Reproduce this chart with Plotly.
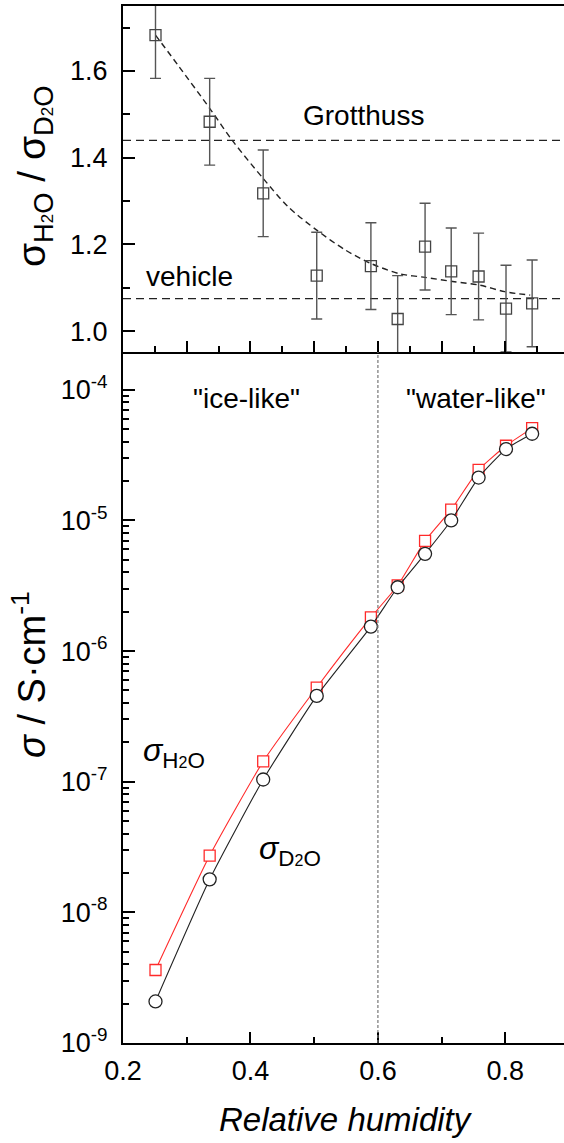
import plotly.graph_objects as go

# ---------------- data ----------------
rh = [0.251, 0.336, 0.420, 0.504, 0.589, 0.631, 0.674, 0.715, 0.758, 0.801, 0.842]

ratio = [1.683, 1.483, 1.318, 1.128, 1.150, 1.028, 1.195, 1.138, 1.126, 1.052, 1.064]
ratio_err = [0.10, 0.10, 0.10, 0.10, 0.10, 0.10, 0.10, 0.10, 0.10, 0.10, 0.10]

fit_x = [0.251, 0.288, 0.336, 0.373, 0.420, 0.459, 0.504, 0.549, 0.589, 0.635, 0.674, 0.720, 0.760, 0.799, 0.839]
fit_y = [1.683, 1.610, 1.514, 1.437, 1.352, 1.287, 1.233, 1.187, 1.156, 1.132, 1.124, 1.114, 1.106, 1.091, 1.083]

grotthuss_level = 1.44
vehicle_level = 1.075

sigma_h2o = [3.62e-9, 2.72e-8, 1.43e-7, 5.26e-7, 1.81e-6, 3.18e-6, 6.98e-6, 1.21e-5, 2.44e-5, 3.73e-5, 5.09e-5]
sigma_d2o = [2.08e-9, 1.79e-8, 1.04e-7, 4.54e-7, 1.54e-6, 3.08e-6, 5.55e-6, 1.00e-5, 2.13e-5, 3.52e-5, 4.61e-5]

boundary_rh = 0.6

x_major = [0.2, 0.4, 0.6, 0.8]
x_labels = ["0.2", "0.4", "0.6", "0.8"]
ratio_ticks = [1.0, 1.2, 1.4, 1.6]
ratio_labels = ["1.0", "1.2", "1.4", "1.6"]
decades = [-9, -8, -7, -6, -5, -4]
decade_labels = ["10<sup>-9</sup>", "10<sup>-8</sup>", "10<sup>-7</sup>",
                 "10<sup>-6</sup>", "10<sup>-5</sup>", "10<sup>-4</sup>"]

# ---------------- style ----------------
FONT = "Liberation Sans, Arial, sans-serif"
W, H = 564, 1143
ML, MR, MT, MB = 123, 0, 6, 100
split = 0.6664

minor_log = [m * 10.0 ** d for d in decades for m in range(2, 10)]

fig = go.Figure()

# top panel: ratio
fig.add_trace(go.Scatter(
    x=[0.2, 0.892], y=[grotthuss_level] * 2, xaxis="x2", yaxis="y2", mode="lines",
    line=dict(color="#222", width=1.4, dash="8px,5px"), hoverinfo="skip", showlegend=False))
fig.add_trace(go.Scatter(
    x=[0.2, 0.892], y=[vehicle_level] * 2, xaxis="x2", yaxis="y2", mode="lines",
    line=dict(color="#222", width=1.4, dash="8px,5px"), hoverinfo="skip", showlegend=False))
fig.add_trace(go.Scatter(
    x=fit_x, y=fit_y, xaxis="x2", yaxis="y2", mode="lines",
    line=dict(color="#222", width=1.4, dash="6px,4px", shape="spline", smoothing=0.8),
    hoverinfo="skip", showlegend=False))
fig.add_trace(go.Scatter(
    x=rh, y=ratio, xaxis="x2", yaxis="y2", mode="markers",
    error_y=dict(type="data", array=ratio_err, color="#555", thickness=1.4, width=5.5),
    marker=dict(symbol="square-open", size=11, color="#444", line=dict(width=1.3)),
    showlegend=False))

# bottom panel: conductivity
fig.add_trace(go.Scatter(
    x=rh, y=sigma_h2o, xaxis="x", yaxis="y", mode="lines+markers",
    line=dict(color="#ff2a2a", width=1.1, shape="spline", smoothing=0.5),
    marker=dict(symbol="square", size=11, color="white", line=dict(color="#ff2a2a", width=1.3)),
    showlegend=False))
fig.add_trace(go.Scatter(
    x=rh, y=sigma_d2o, xaxis="x", yaxis="y", mode="lines+markers",
    line=dict(color="#222", width=1.1, shape="spline", smoothing=0.5),
    marker=dict(symbol="circle", size=13, color="white", line=dict(color="#222", width=1.3)),
    showlegend=False))

# vertical boundary (bottom panel only)
fig.add_shape(type="line", xref="x", yref="y domain", x0=boundary_rh, x1=boundary_rh, y0=0, y1=1,
              line=dict(color="#777", width=1.2, dash="3px,2px"))

axis_common = dict(showline=True, linecolor="black", linewidth=2, ticks="inside",
                   tickcolor="black", tickwidth=2, showgrid=False, zeroline=False,
                   tickfont=dict(family=FONT, size=27, color="black"))

fig.update_layout(
    width=W, height=H, margin=dict(l=ML, r=MR, t=MT, b=MB),
    paper_bgcolor="white", plot_bgcolor="white",
    xaxis=dict(domain=[0, 1], range=[0.2, 0.892], anchor="y",
               tickmode="array", tickvals=x_major, ticktext=x_labels, ticklen=11,
               ticklabelstandoff=3,
               minor=dict(ticks="inside", ticklen=6, tickwidth=2, tickcolor="black", dtick=0.1, tick0=0.2),
               **axis_common),
    yaxis=dict(domain=[0, split], type="log", range=[-9, -3.71], anchor="x",
               tickmode="array", tickvals=[10.0 ** d for d in decades], ticktext=decade_labels,
               ticklen=12, ticklabelstandoff=8,
               minor=dict(ticks="inside", ticklen=6, tickwidth=1.5, tickcolor="black",
                          tickmode="array", tickvals=minor_log),
               **axis_common),
    xaxis2=dict(domain=[0, 1], range=[0.2, 0.892], anchor="y2", matches="x",
                showticklabels=False, mirror=True, tick0=0.2, dtick=0.1, ticklen=11,
                minor=dict(ticks="inside", ticklen=6, tickwidth=2, tickcolor="black", dtick=0.05, tick0=0.2),
                **axis_common),
    yaxis2=dict(domain=[split, 1], range=[0.952, 1.75], anchor="x2",
                tickmode="array", tickvals=ratio_ticks, ticktext=ratio_labels,
                ticklen=12, ticklabelstandoff=8,
                minor=dict(ticks="inside", ticklen=7, tickwidth=2, tickcolor="black", dtick=0.1, tick0=1.0),
                **axis_common),
)

def ann(text, x, y, xref, yref, size, **kw):
    kw.setdefault("xanchor", "center")
    kw.setdefault("yanchor", "middle")
    fig.add_annotation(text=text, x=x, y=y, xref=xref, yref=yref, showarrow=False,
                       font=dict(family=FONT, size=size, color="black"), **kw)

def px_x(px):
    return (px - ML) / (W - ML - MR)

def px_y(py):
    return (H - MB - py) / (H - MT - MB)

ann("Grotthuss", 0.578, 1.498, "x2", "y2", 28)
ann("vehicle", 0.304, 1.125, "x2", "y2", 28)
ann('"ice-like"', 0.393, -4.07, "x", "y", 28)
ann('"water-like"', 0.754, -4.07, "x", "y", 28)
ann("<i>σ</i><sub>H<span style='font-size:16px'>2</span>O</sub>", 0.228, -6.78, "x", "y", 32,
    xanchor="left")
ann("<i>σ</i><sub>D<span style='font-size:16px'>2</span>O</sub>", 0.410, -7.53, "x", "y", 32,
    xanchor="left")

# axis titles
ann("σ<sub>H<span style='font-size:17px'>2</span>O</sub> / σ<sub>D<span style='font-size:17px'>2</span>O</sub>",
    px_x(35), px_y(176), "paper", "paper", 39, textangle=-90)
ann("<i>σ</i> / S·cm<sup>-1</sup>", px_x(29), px_y(675), "paper", "paper", 38, textangle=-90)
ann("<i>Relative humidity</i>", px_x(346), px_y(1119), "paper", "paper", 33)

fig.write_html("out.html")
